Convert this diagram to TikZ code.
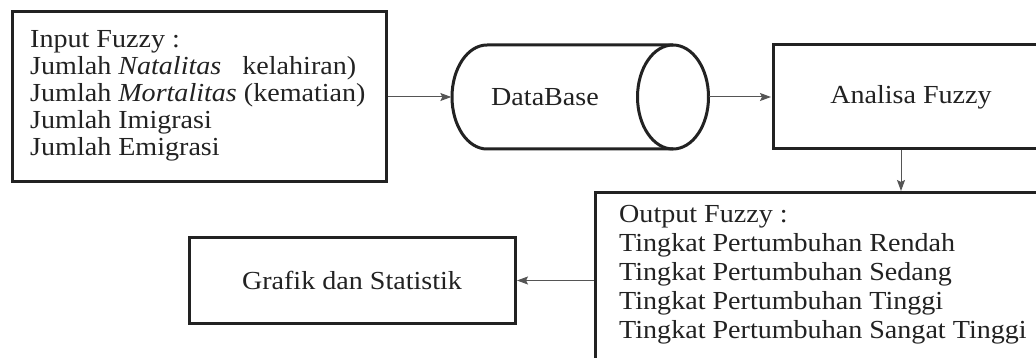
\documentclass[tikz,border=0pt]{standalone}
\usepackage{fontspec}
\setmainfont[FakeStretch=1.08]{Liberation Serif}
\usetikzlibrary{arrows.meta}
\definecolor{ink}{HTML}{222222}
\definecolor{wire}{HTML}{555555}
\tikzset{
  boxline/.style={draw=ink, line width=3pt},
  blockbox/.style={boxline, rectangle, inner sep=0pt, fill=white},
  wirearrow/.style={draw=wire, line width=1pt, -{Stealth[length=11pt,width=8pt,inset=2pt]}, shorten >=0.5pt},
  txt/.style={inner sep=0pt, text=ink, font=\fontsize{26}{27}\selectfont},
}
\begin{document}
\begin{tikzpicture}[x=1pt,y=-1pt]
\useasboundingbox (0,0) rectangle (1036,358);
\clip (0,0) rectangle (1036,358);
\fill[white] (0,0) rectangle (1036,358);

% input box
\node[blockbox, minimum width=374pt, minimum height=170pt] (input) at (199,97) {};
\node[txt, anchor=north west, align=left] (inputtext) at (30,30)
  {Input Fuzzy :\\
   Jumlah \textit{Natalitas}\ \ \ kelahiran)\\
   Jumlah \textit{Mortalitas} (kematian)\\
   Jumlah Imigrasi\\
   Jumlah Emigrasi};

% database cylinder
\node[inner sep=0pt, minimum width=257pt, minimum height=104pt] (db) at (580.5,97) {};
\draw[boxline] (487,45) -- (673,45)
  (487,149) -- (673,149)
  (487,45) arc[start angle=90, end angle=270, x radius=35pt, y radius=52pt];
\draw[boxline] (673,97) ellipse[x radius=35.5pt, y radius=52pt];
\node[txt] (dbtext) at (545,97) {DataBase};

% analisa fuzzy
\node[blockbox, minimum width=276pt, minimum height=104pt, txt] (analisa) at (911,97) {Analisa Fuzzy};

% output box
\node[blockbox, minimum width=460pt, minimum height=180pt] (output) at (825,283) {};
\node[txt, anchor=north west, align=left, font=\fontsize{26}{29}\selectfont] (outputtext) at (619,205)
  {Output Fuzzy :\\
   Tingkat Pertumbuhan Rendah\\
   Tingkat Pertumbuhan Sedang\\
   Tingkat Pertumbuhan Tinggi\\
   Tingkat Pertumbuhan Sangat Tinggi};

% grafik
\node[blockbox, minimum width=326pt, minimum height=85pt, txt] (grafik) at (352,280.5) {Grafik dan Statistik};

% connectors
\draw[wirearrow] (input.east) -- (db.west);
\draw[wirearrow] (db.east) -- (analisa.west);
\draw[wirearrow] ([xshift=-10pt]analisa.south) -- ([xshift=-10pt]analisa.south |- output.north);
\draw[wirearrow] (output.west |- grafik.east) -- (grafik.east);
\end{tikzpicture}
\end{document}
